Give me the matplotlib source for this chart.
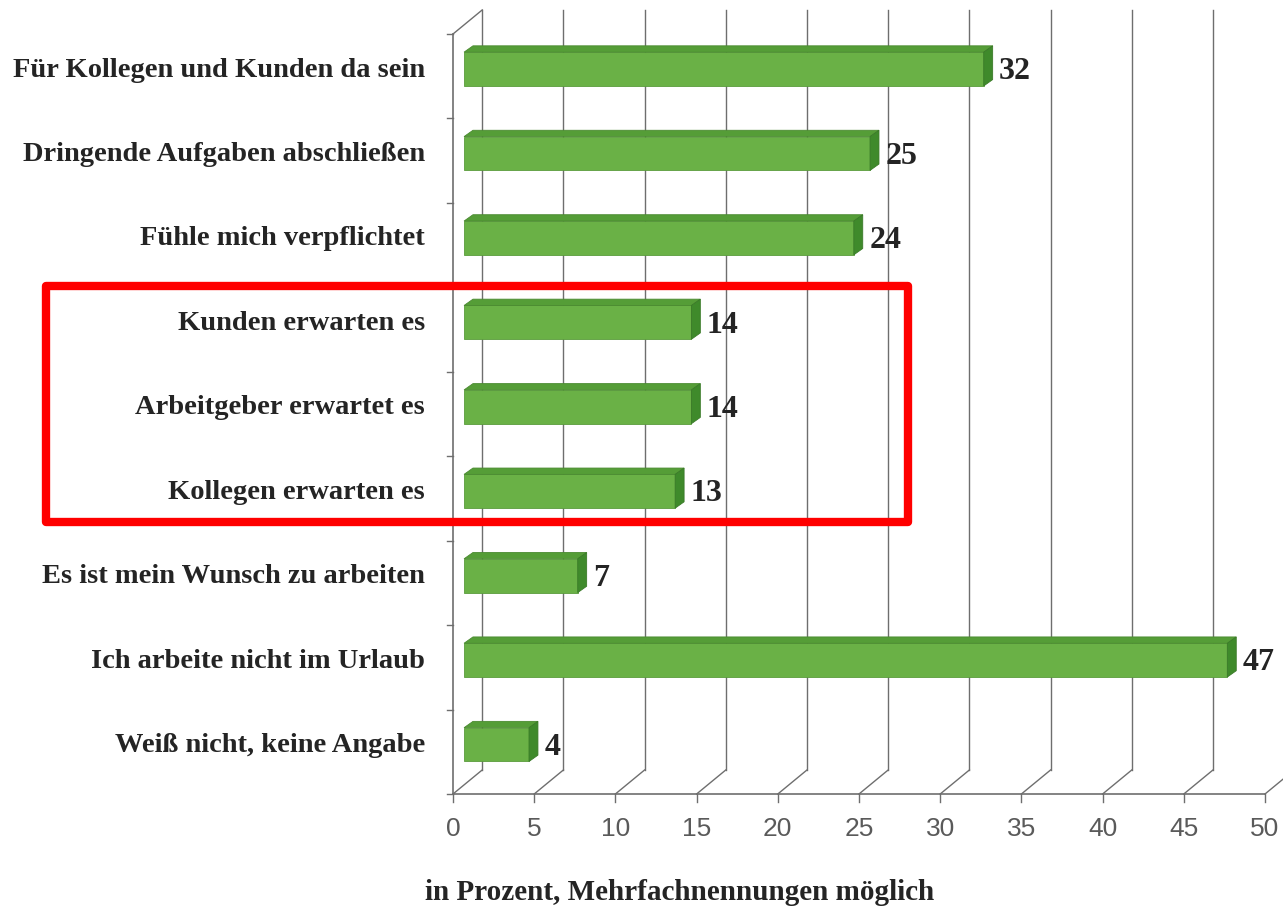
import matplotlib
matplotlib.use("Agg")
import matplotlib.pyplot as plt
from matplotlib.patches import Polygon, Rectangle

categories = [
    "Für Kollegen und Kunden da sein",
    "Dringende Aufgaben abschließen",
    "Fühle mich verpflichtet",
    "Kunden erwarten es",
    "Arbeitgeber erwartet es",
    "Kollegen erwarten es",
    "Es ist mein Wunsch zu arbeiten",
    "Ich arbeite nicht im Urlaub",
    "Weiß nicht, keine Angabe",
]
values = [32, 25, 24, 14, 14, 13, 7, 47, 4]
xticks = [0, 5, 10, 15, 20, 25, 30, 35, 40, 45, 50]
xlabel = "in Prozent, Mehrfachnennungen möglich"

W, H = 1283, 912
fig = plt.figure(figsize=(W / 100, H / 100), dpi=100)
fig.patch.set_facecolor("white")

# axes placed in pixels: x 0..50 -> px 453..1265, y 9..0 -> px 795..35
ax = fig.add_axes([453 / W, (H - 795) / H, (1265 - 453) / W, (795 - 35) / H])
ax.set_xlim(0, 50)
ax.set_ylim(9, 0)
ax.axis("off")

n = len(categories)
dx, dy = 1.8, 0.285          # depth of the back wall (data units)
grid_c = "#6e6e6e"
text_c = "#242424"
serif = ["Liberation Serif", "DejaVu Serif"]

# back wall gridlines + floor diagonals
for t in xticks:
    ax.plot([t + dx, t + dx], [n - dy, -dy], color=grid_c, lw=1.0,
            clip_on=False, zorder=1)
    ax.plot([t, t + dx], [n, n - dy], color=grid_c, lw=1.0,
            clip_on=False, zorder=1)
    ax.plot([t, t], [n, n + 0.09], color=grid_c, lw=1.0, clip_on=False)
    ax.text(t, n + 0.4, str(t), ha="center", va="center", fontsize=19,
            color="#5a5a5a", family=["Liberation Sans", "DejaVu Sans"])

# front axis lines
ax.plot([0, 50], [n, n], color=grid_c, lw=1.2, clip_on=False, zorder=2)
ax.plot([0, 0], [n, 0], color=grid_c, lw=1.2, clip_on=False, zorder=2)
ax.plot([0, dx], [0, -dy], color=grid_c, lw=1.0, clip_on=False, zorder=2)
for k in range(n + 1):
    ax.plot([-0.4, 0], [k, k], color=grid_c, lw=1.0, clip_on=False)

# pseudo-3D bars
x0 = 0.68
bh = 0.40
bdx, bdy = 0.55, 0.075
front_c, top_c, side_c = "#6ab146", "#559d37", "#3f8a2b"
for i, (cat, v) in enumerate(zip(categories, values)):
    yc = i + 0.415
    yt, yb = yc - bh / 2, yc + bh / 2
    x1 = x0 + v
    ax.add_patch(Rectangle((x0, yt), v, bh, facecolor=front_c,
                           edgecolor="#5a9c3c", lw=0.6, zorder=4))
    ax.add_patch(Polygon([(x0, yt), (x1, yt), (x1 + bdx, yt - bdy),
                          (x0 + bdx, yt - bdy)], closed=True,
                         facecolor=top_c, edgecolor="#4a8a30", lw=0.6, zorder=4))
    ax.add_patch(Polygon([(x1, yt), (x1, yb), (x1 + bdx, yb - bdy),
                          (x1 + bdx, yt - bdy)], closed=True,
                         facecolor=side_c, edgecolor="#3a7a28", lw=0.6, zorder=4))
    ax.text(x1 + bdx + 0.4, yc + 0.02, str(v), ha="left", va="center",
            fontsize=23, fontweight="bold", color=text_c, family=serif, zorder=5)
    fig.text(425 / W, 1 - (35 + 84.44 * yc) / H, cat, ha="right", va="center",
             fontsize=20.5, fontweight="bold", color=text_c, family=serif)

fig.text(425 / W, 1 - 893 / H, xlabel, ha="left", va="center", fontsize=21,
         fontweight="bold", color=text_c, family=serif)

# red highlight box
fig.patches.append(Rectangle((46 / W, 1 - 523 / H), (908 - 46) / W, (523 - 287) / H,
                             transform=fig.transFigure, fill=False,
                             edgecolor="#ff0000", lw=6, joinstyle="round"))

fig.savefig("out.png", dpi=100, facecolor="white")
